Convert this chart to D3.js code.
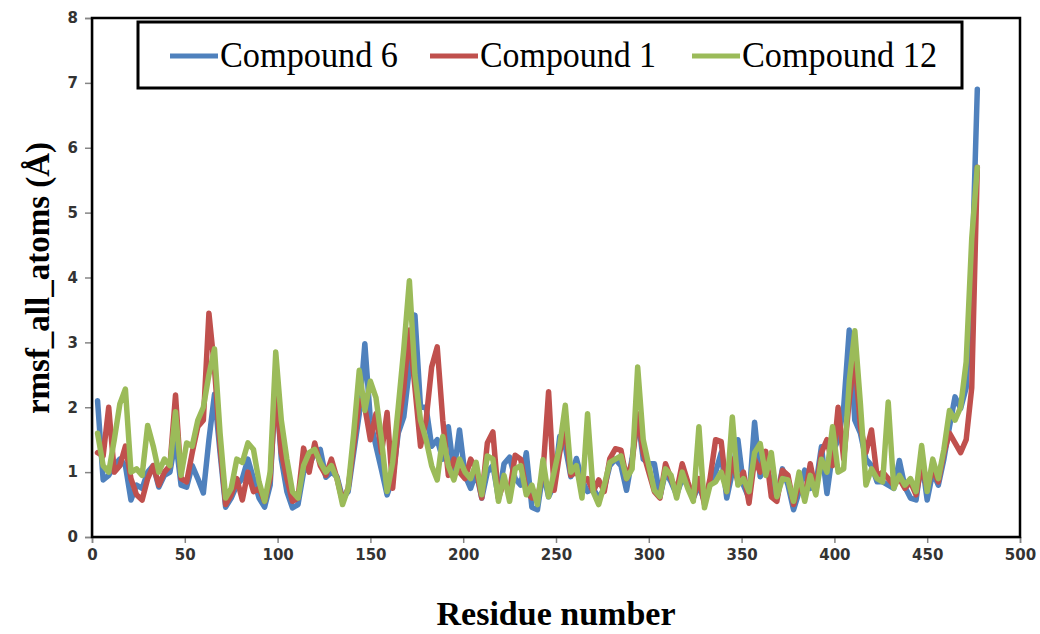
<!DOCTYPE html>
<html>
<head>
<meta charset="utf-8">
<script src="https://cdn.jsdelivr.net/npm/d3@7"></script>
<style>
  body { margin: 0; background: #fff; }
</style>
</head>
<body>
<div id="graph"></div>
<script>
// residue numbers sampled every 3 residues (3 .. 477)
const residues = d3.range(3, 478, 3);

const seriesNames = ["Compound 6", "Compound 1", "Compound 12"];
const seriesColors = ["#4F81BD", "#C0504D", "#9BBB59"];

const xTicks = [0, 50, 100, 150, 200, 250, 300, 350, 400, 450, 500];
const yTicks = [0, 1, 2, 3, 4, 5, 6, 7, 8];

const compound6 = [
  2.1, 0.88, 0.95, 1.1, 1.2, 1.1, 0.57, 0.8, 0.75, 1.0,
  1.1, 0.77, 0.95, 1.0, 1.5, 0.8, 0.77, 1.1, 0.9, 0.68,
  1.5, 2.2, 1.3, 0.46, 0.6, 0.8, 0.9, 1.2, 0.9, 0.6,
  0.46, 0.8, 2.4, 1.2, 0.7, 0.45, 0.5, 1.0, 1.1, 1.3,
  1.35, 0.92, 1.0, 0.93, 0.6, 0.7, 1.3, 1.9, 2.98, 1.8,
  1.4, 1.03, 0.65, 0.9, 1.6, 1.85, 2.6, 3.42, 2.0, 2.0,
  1.4, 1.5, 1.2, 1.7, 1.0, 1.65, 0.95, 0.75, 1.0, 0.6,
  1.0, 1.1, 0.6, 1.13, 1.23, 0.9, 0.8, 1.3, 0.46, 0.42,
  1.0, 0.62, 0.8, 1.55, 1.4, 0.93, 1.21, 0.88, 0.7, 0.75,
  0.6, 0.75, 1.1, 1.2, 1.1, 0.72, 1.21, 1.85, 1.2, 1.13,
  1.13, 0.62, 1.0, 0.85, 0.65, 0.9, 0.8, 0.6, 0.8, 0.55,
  0.85, 1.0, 1.3, 0.6, 1.0, 1.5, 0.8, 0.6, 1.77, 0.93,
  1.1, 0.85, 0.6, 1.05, 0.8, 0.42, 0.7, 1.03, 0.75, 0.8,
  1.39, 0.67, 1.3, 1.5, 2.0, 3.19, 1.8, 1.6, 1.2, 1.1,
  0.85, 0.85, 0.8, 0.75, 1.18, 0.77, 0.6, 0.57, 1.2, 0.57,
  1.0, 0.8, 1.2, 1.7, 2.16, 1.98, 2.3, 4.0, 6.9
];

const compound1 = [
  1.3, 1.25, 2.0, 1.0, 1.1, 1.4, 0.9, 0.65, 0.57, 0.9,
  1.1, 0.8, 1.0, 1.1, 2.19, 0.9, 0.85, 1.3, 1.7, 1.8,
  3.45, 2.6, 1.4, 0.5, 0.65, 0.9, 0.57, 1.0, 0.7, 0.75,
  0.55, 0.9, 2.3, 1.3, 0.9, 0.55, 0.6, 1.37, 1.0, 1.45,
  1.1, 0.95, 1.2, 0.9, 0.55, 0.75, 1.4, 2.1, 2.0, 1.5,
  1.9, 1.3, 1.92, 0.75, 1.7, 2.3, 3.19, 2.3, 1.4, 1.8,
  2.62, 2.93, 1.8, 0.95, 1.2, 1.0, 0.9, 1.2, 1.05, 0.6,
  1.45, 1.62, 0.6, 0.85, 0.7, 1.26, 1.2, 0.7, 0.6, 0.6,
  1.0, 2.24, 0.72, 1.3, 1.7, 0.95, 1.0, 0.85, 0.9, 0.7,
  0.88, 0.7, 1.21, 1.36, 1.34, 0.9, 1.15, 1.9, 1.3, 1.0,
  0.7, 0.6, 1.13, 0.9, 0.7, 1.13, 0.85, 0.6, 0.9, 0.5,
  0.9, 1.5, 1.47, 0.7, 1.2, 0.85, 1.0, 0.52, 1.2, 1.0,
  1.32, 0.62, 0.55, 1.03, 0.95, 0.5, 0.85, 0.6, 1.13, 0.7,
  1.3, 1.5, 1.1, 2.0, 1.2, 2.11, 2.8, 1.7, 1.3, 1.65,
  0.93, 1.0, 0.9, 0.8, 0.9, 0.75, 0.85, 0.65, 1.1, 0.75,
  1.05, 0.85, 1.3, 1.6, 1.45, 1.3, 1.5, 2.3, 5.7
];

const compound12 = [
  1.6, 1.1, 1.0, 1.5, 2.05, 2.28, 1.0, 1.05, 0.95, 1.72,
  1.4, 1.0, 1.2, 1.1, 1.93, 0.95, 1.45, 1.4, 1.8, 2.0,
  2.5, 2.9, 1.6, 0.6, 0.75, 1.2, 1.15, 1.45, 1.35, 0.85,
  0.55, 1.0, 2.85, 1.8, 1.2, 0.7, 0.6, 1.1, 1.3, 1.35,
  1.15, 1.0, 1.1, 0.9, 0.5, 0.75, 1.6, 2.57, 1.95, 2.4,
  2.15, 1.5, 0.7, 1.15, 2.0, 2.9, 3.95, 2.5, 1.8, 1.5,
  1.1, 0.88, 1.55, 1.1, 0.88, 1.2, 1.0, 0.9, 1.15, 0.65,
  1.25, 1.2, 0.55, 0.95, 0.55, 1.05, 1.1, 0.65, 0.8, 0.5,
  1.19, 0.62, 1.0, 1.4, 2.03, 1.0, 1.1, 0.6, 1.9, 0.7,
  0.5, 0.8, 1.15, 1.2, 1.25, 0.9, 1.05, 2.62, 1.5, 1.1,
  0.72, 0.62, 1.05, 0.95, 0.6, 1.0, 0.75, 0.55, 1.7, 0.45,
  0.8, 0.85, 1.0, 0.7, 1.85, 0.8, 0.9, 0.7, 1.3, 1.44,
  0.95, 1.3, 0.62, 0.9, 0.88, 0.55, 1.0, 0.55, 0.95, 0.65,
  1.2, 1.0, 1.7, 1.0, 1.05, 2.4, 3.18, 2.06, 0.8, 1.05,
  0.9, 0.85, 2.08, 0.75, 0.95, 0.8, 0.9, 0.7, 1.41, 0.7,
  1.2, 0.9, 1.35, 1.95, 1.8, 2.0, 2.7, 4.6, 5.7
];

const allSeries = [compound6, compound1, compound12];

const width = 1040;
const height = 634;
const margin = {top: 18, right: 20, bottom: 97, left: 92};

const svg = d3.select("#graph").append("svg")
    .attr("width", width)
    .attr("height", height)
    .attr("viewBox", [0, 0, width, height]);

const xScale = d3.scaleLinear()
    .domain([0, 500])
    .range([margin.left, width - margin.right]);

const yScale = d3.scaleLinear()
    .domain([0, 8])
    .range([height - margin.bottom, margin.top]);

const tickFont = "'DejaVu Sans', Verdana, sans-serif";

// x axis
svg.append("g")
    .attr("transform", `translate(0,${height - margin.bottom})`)
    .call(d3.axisBottom(xScale).tickValues(xTicks).tickSize(6).tickPadding(6))
    .call(g => g.select(".domain").attr("stroke", "#868686").attr("stroke-width", 1.5))
    .call(g => g.selectAll(".tick line").attr("stroke", "#868686").attr("stroke-width", 1.5))
    .call(g => g.selectAll(".tick text")
        .attr("font-family", tickFont)
        .attr("font-size", 15)
        .attr("font-weight", "bold")
        .attr("fill", "#333"));

// y axis
svg.append("g")
    .attr("transform", `translate(${margin.left},0)`)
    .call(d3.axisLeft(yScale).tickValues(yTicks).tickSize(7).tickPadding(7))
    .call(g => g.select(".domain").attr("stroke", "#868686").attr("stroke-width", 1.5))
    .call(g => g.selectAll(".tick line").attr("stroke", "#868686").attr("stroke-width", 1.5))
    .call(g => g.selectAll(".tick text")
        .attr("font-family", tickFont)
        .attr("font-size", 15)
        .attr("font-weight", "bold")
        .attr("fill", "#333"));

// plot frame
svg.append("rect")
    .attr("x", margin.left)
    .attr("y", margin.top)
    .attr("width", width - margin.right - margin.left)
    .attr("height", height - margin.bottom - margin.top)
    .attr("fill", "none")
    .attr("stroke", "#000")
    .attr("stroke-width", 2.5);

// lines
const line = d3.line()
    .x((d, i) => xScale(residues[i]))
    .y(d => yScale(d));

allSeries.forEach((values, k) => {
    svg.append("path")
        .attr("fill", "none")
        .attr("stroke", seriesColors[k])
        .attr("stroke-width", 5.5)
        .attr("stroke-linejoin", "round")
        .attr("stroke-linecap", "round")
        .attr("d", line(values));
});

// legend
const legend = svg.append("g");
legend.append("rect")
    .attr("x", 138)
    .attr("y", 22)
    .attr("width", 824)
    .attr("height", 66)
    .attr("fill", "#fff")
    .attr("stroke", "#000")
    .attr("stroke-width", 3);

const legendX = [170, 430, 692];
const legendW = [178, 176, 195];
seriesNames.forEach((name, k) => {
    legend.append("line")
        .attr("x1", legendX[k])
        .attr("x2", legendX[k] + 48)
        .attr("y1", 56)
        .attr("y2", 56)
        .attr("stroke", seriesColors[k])
        .attr("stroke-width", 5);
    legend.append("text")
        .attr("x", legendX[k] + 50)
        .attr("y", 67)
        .attr("font-family", "'Liberation Serif', 'Times New Roman', serif")
        .attr("font-size", 36)
        .attr("textLength", legendW[k])
        .attr("lengthAdjust", "spacingAndGlyphs")
        .attr("fill", "#000")
        .text(name);
});

// axis titles
svg.append("text")
    .attr("x", (margin.left + width - margin.right) / 2)
    .attr("y", 625)
    .attr("text-anchor", "middle")
    .attr("font-family", "'Liberation Serif', 'Times New Roman', serif")
    .attr("font-weight", "bold")
    .attr("font-size", 34)
    .text("Residue number");

svg.append("text")
    .attr("transform", "translate(49,278) rotate(-90)")
    .attr("text-anchor", "middle")
    .attr("font-family", "'Liberation Serif', 'Times New Roman', serif")
    .attr("font-weight", "bold")
    .attr("font-size", 33)
    .text("rmsf_all_atoms (Å)");
</script>
</body>
</html>
